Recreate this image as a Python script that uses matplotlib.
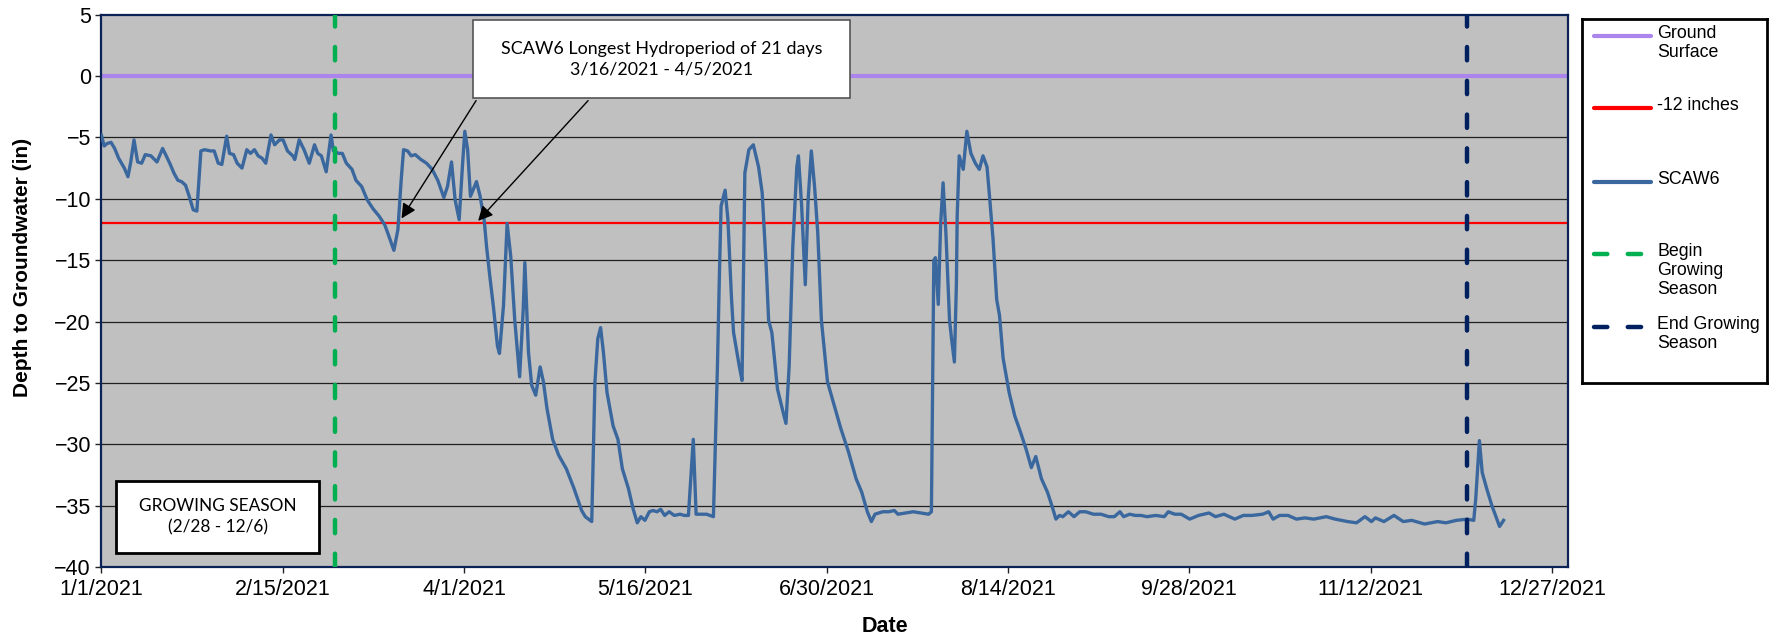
import pandas as pd
import matplotlib.pyplot as plt
import matplotlib.dates as mdates
from matplotlib.patches import Rectangle

# SCAW6 depth to groundwater, day offsets from 1/1/2021 and depth (in)
day_offset = [0, 0.7, 1.4, 2.4, 3.3, 4.3, 5.7, 6.6, 7.3, 8.1, 9.0, 10.0, 10.9, 12.3, 13.8,
              15.2, 16.1, 17.1, 18.0, 19.0, 19.9, 20.9, 21.8, 22.8, 23.7, 24.7, 25.6, 27.1,
              28.0, 29.0, 29.9, 31.1, 31.8, 32.8, 33.7, 34.9, 36.1, 37.0, 38.0, 38.9, 39.9,
              40.8, 42.1, 43.0, 44.2, 45.1, 46.2, 47.5, 48.0, 49.1, 50.3, 51.6, 52.9, 53.7,
              54.6, 55.8, 57.0, 57.6, 58.9, 59.8, 60.8, 62.2, 63.2, 64.6, 66.0, 67.4, 68.9,
              70.3, 71.2, 72.6, 73.6, 74.4, 75.0, 76.0, 76.9, 77.9, 79.3, 80.7, 82.1, 83.5,
              85.0, 85.9, 86.9, 87.8, 88.8, 89.6, 90.2, 90.9, 91.6, 92.6, 93.1, 94.0, 95.0,
              95.6, 96.4, 97.3, 98.3, 98.8, 99.8, 100.7, 101.6, 102.6, 103.8, 104.7, 105.1,
              106.0, 106.8, 107.8, 108.9, 109.7, 110.6, 112.0, 113.5, 115.4, 117.3, 119.2,
              120.1, 121.7, 122.5, 123.2, 123.9, 124.6, 125.5, 127.0, 128.2, 129.3, 130.8,
              132.0, 133.0, 133.9, 134.9, 136.0, 136.9, 137.9, 138.8, 139.8, 140.9, 142.2,
              143.6, 144.7, 145.7, 146.9, 147.6, 148.8, 150.2, 151.9, 152.9, 153.4, 153.8,
              154.8, 155.5, 156.4, 156.9, 158.3, 159.0, 159.4, 159.7, 160.7, 161.8, 163.1,
              164.0, 165.0, 165.6, 166.4, 167.8, 169.2, 169.9, 170.7, 171.6, 172.6, 173.0,
              173.8, 174.7, 175.4, 176.2, 177.0, 177.8, 178.7, 180.2, 182.1, 183.5, 185.4,
              187.3, 188.7, 190.1, 191.1, 192.0, 193.9, 195.4, 196.8, 197.7, 199.6, 201.5,
              203.4, 205.3, 206.0, 206.6, 207.0, 207.7, 208.3, 208.9, 209.6, 210.5, 211.0,
              211.7, 212.2, 212.4, 212.9, 213.9, 214.8, 215.8, 216.9, 217.9, 218.8, 219.8,
              220.5, 221.3, 222.2, 222.9, 223.8, 225.3, 226.7, 228.1, 229.5, 230.8, 231.9,
              233.3, 234.8, 235.9, 236.9, 237.8, 238.6, 240.0, 241.4, 242.8, 244.3, 246.2,
              248.1, 250.0, 251.4, 252.8, 253.7, 255.2, 256.6, 258.0, 259.5, 261.7, 263.8,
              264.8, 266.4, 268.0, 270.1, 272.3, 274.9, 276.5, 278.6, 281.3, 283.4, 285.5,
              288.2, 289.7, 290.8, 292.4, 294.5, 296.6, 298.7, 300.9, 304.0, 306.2, 309.3,
              311.5, 313.6, 315.2, 316.2, 318.3, 320.8, 323.1, 325.2, 328.4, 331.6, 333.7,
              336.3, 339.0, 340.6, 341.1, 342.0, 342.7, 343.8, 345.1, 347.0, 348.0]
depth = [-4.8, -5.7, -5.5, -5.4, -5.9, -6.7, -7.5, -8.2, -7.0, -5.2, -7.0, -7.1, -6.4, -6.5, -7.0,
         -5.9, -6.5, -7.2, -7.9, -8.5, -8.6, -8.9, -9.8, -10.9, -11.0, -6.1, -6.0, -6.1,
         -6.1, -7.1, -7.2, -4.9, -6.3, -6.4, -7.1, -7.5, -6.0, -6.3, -6.0, -6.5, -6.7,
         -7.1, -4.8, -5.6, -5.2, -5.2, -6.1, -6.5, -6.8, -5.2, -6.0, -7.1, -5.6, -6.3,
         -6.5, -7.8, -4.8, -6.1, -6.3, -6.3, -7.1, -7.6, -8.5, -9.0, -10.1, -10.8, -11.4,
         -12.1, -12.9, -14.2, -12.5, -8.5, -6.0, -6.1, -6.5, -6.4, -6.8, -7.1, -7.6, -8.5,
         -9.9, -9.0, -7.0, -10.1, -11.7, -7.4, -4.5, -6.0, -9.8, -9.0, -8.6, -9.8, -11.7,
         -13.9, -16.3, -18.8, -22.0, -22.6, -18.7, -12.0, -14.7, -19.9, -24.5, -19.0, -15.2,
         -22.5, -25.2, -26.0, -23.7, -24.9, -27.1, -29.6, -30.9, -32.0, -33.6, -35.4,
         -35.9, -36.3, -24.9, -21.4, -20.5, -22.5, -25.8, -28.5, -29.6, -32.0, -33.6,
         -35.3, -36.4, -35.9, -36.2, -35.5, -35.4, -35.5, -35.3, -35.8, -35.5, -35.8,
         -35.7, -35.8, -35.8, -29.6, -35.7, -35.7, -35.7, -35.9, -23.6, -16.0, -10.6,
         -9.3, -11.7, -18.2, -20.9, -23.6, -24.8, -15.0, -7.9, -6.0, -5.6, -7.4,
         -9.5, -15.5, -19.9, -20.9, -25.5, -27.4, -28.3, -23.6, -13.9, -7.4, -6.5,
         -10.6, -17.0, -10.1, -6.1, -9.0, -12.8, -19.9, -24.9, -27.1, -28.7, -30.6,
         -32.8, -33.9, -35.5, -36.3, -35.7, -35.5, -35.5, -35.4, -35.7, -35.6, -35.5,
         -35.6, -35.7, -35.5, -15.0, -14.8, -18.6, -12.0, -8.7, -12.8, -19.9, -21.4,
         -23.3, -17.0, -11.4, -6.5, -7.6, -4.5, -6.3, -7.1, -7.6, -6.5, -7.4,
         -10.1, -13.3, -18.2, -19.5, -23.0, -25.8, -27.7, -29.0, -30.4, -31.9, -31.0,
         -32.8, -33.9, -35.0, -36.1, -35.8, -35.9, -35.5, -35.9, -35.5, -35.5, -35.7,
         -35.7, -35.9, -35.9, -35.5, -35.9, -35.7, -35.8, -35.8, -35.9, -35.8, -35.9,
         -35.5, -35.7, -35.7, -36.1, -35.8, -35.6, -35.9, -35.7, -36.1, -35.8, -35.8,
         -35.7, -35.5, -36.1, -35.8, -35.8, -36.1, -36.0, -36.1, -35.9, -36.1, -36.3,
         -36.4, -35.9, -36.3, -36.0, -36.3, -35.8, -36.3, -36.2, -36.5, -36.3, -36.4,
         -36.2, -36.1, -36.2, -34.4, -29.7, -32.3, -33.6, -35.0, -36.7, -36.2]

ground_surface = 0
threshold = -12
begin_season = '2021-02-28'
end_season = '2021-12-06'
hydro_start = '2021-03-16'
hydro_end = '2021-04-05'

start = pd.Timestamp('2021-01-01')
dates = start + pd.to_timedelta(day_offset, unit='D')
xticks = pd.date_range(start, periods=9, freq='45D')

plt.rcParams['font.family'] = ['Liberation Sans', 'DejaVu Sans']

fig = plt.figure(figsize=(17.69, 6.39), dpi=100)
ax = fig.add_axes([0.0573, 0.1127, 0.8291, 0.8643])
ax.set_facecolor('#C0C0C0')

# gridlines
for y in range(-35, 5, 5):
    ax.axhline(y, color='#202020', lw=0.9, zorder=1)

xmin, xmax = start, pd.Timestamp('2021-12-31')
ax.plot([xmin, xmax], [ground_surface] * 2, color='#AB85EC', lw=3.0, zorder=2)
ax.plot([xmin, xmax], [threshold] * 2, color='#FF0000', lw=1.6, zorder=2)
ax.plot(dates, depth, color='#3A689E', lw=2.4, zorder=3)
ax.axvline(pd.Timestamp(begin_season), color='#00B050', lw=3.2, dashes=(3, 4.6),
           dash_capstyle='round', zorder=4)
ax.axvline(pd.Timestamp(end_season), color='#002060', lw=3.2, dashes=(3, 4.6),
           dash_capstyle='round', zorder=4)

ax.set_xlim(xmin, xmax)
ax.set_ylim(-40, 5)
ax.set_yticks(range(-40, 6, 5))
ax.set_xticks(xticks)
ax.xaxis.set_major_formatter(plt.FuncFormatter(
    lambda v, p: (lambda d: f"{d.month}/{d.day}/{d.year}")(mdates.num2date(v))))
ax.tick_params(labelsize=15.5, length=4.5, width=1, color='#222222')
ax.tick_params(axis='x', pad=4)
ax.tick_params(axis='y', pad=3)
for s in ax.spines.values():
    s.set_color('#0B2256')
    s.set_linewidth(1.6)
ax.set_xlabel('Date', fontsize=15.5, fontweight='bold', va='center')
ax.set_ylabel('Depth to Groundwater (in)', fontsize=15, fontweight='bold', va='center')
ax.xaxis.set_label_coords(0.534, -0.107)
ax.yaxis.set_label_coords(-0.0535, 0.543)

# hydroperiod callout
ax.add_patch(Rectangle((0.2534, 0.8495), 0.2571, 0.1412, transform=ax.transAxes,
                       facecolor='white', edgecolor='#555555', lw=1.2, zorder=6))
ax.text(0.382, 0.920, 'SCAW6 Longest Hydroperiod of 21 days\n3/16/2021 - 4/5/2021',
        transform=ax.transAxes, ha='center', va='center', fontsize=12.9,
        family=['Lato', 'DejaVu Sans'], linespacing=1.35, zorder=7)
arrow = dict(arrowstyle='-|>', color='black', lw=1.0, mutation_scale=22, shrinkA=0, shrinkB=0)
ax.annotate('', xy=(pd.Timestamp(hydro_start) + pd.Timedelta(hours=12), -11.6),
            xytext=(start + pd.Timedelta(days=93), -2.0), arrowprops=arrow, zorder=6)
ax.annotate('', xy=(pd.Timestamp(hydro_end) - pd.Timedelta(hours=12), -11.8),
            xytext=(start + pd.Timedelta(days=120.8), -2.0), arrowprops=arrow, zorder=6)

# growing season box
ax.add_patch(Rectangle((0.0100, 0.0253), 0.1384, 0.1304, transform=ax.transAxes,
                       facecolor='white', edgecolor='black', lw=2.0, zorder=6))
ax.text(0.0792, 0.0905, 'GROWING SEASON\n(2/28 - 12/6)', transform=ax.transAxes,
        ha='center', va='center', fontsize=12.4, family=['Lato', 'DejaVu Sans'],
        linespacing=1.4, zorder=7)

# legend panel
lax = fig.add_axes([1582 / 1769, 1 - 383 / 639, 185 / 1769, 364 / 639])
lax.set_xlim(0, 185)
lax.set_ylim(364, 0)
lax.set_xticks([])
lax.set_yticks([])
for s in lax.spines.values():
    s.set_linewidth(2.0)
    s.set_color('black')
entries = [
    ('Ground\nSurface', dict(color='#AB85EC', lw=3.0), 17),
    ('-12 inches', dict(color='#FF0000', lw=3.0), 89),
    ('SCAW6', dict(color='#3A689E', lw=3.0), 163),
    ('Begin\nGrowing\nSeason', dict(color='#00B050', lw=3.2, dashes=(3, 4.6),
                                   dash_capstyle='round'), 235),
    ('End Growing\nSeason', dict(color='#002060', lw=3.2, dashes=(3, 4.6),
                                dash_capstyle='round'), 308),
]
for label, style, yy in entries:
    lax.plot([12, 69], [yy, yy], solid_capstyle='round', **style)
    lax.text(75, yy - 11, label, fontsize=12.8, va='top', ha='left', linespacing=1.15)

fig.savefig('out.png', dpi=100)
